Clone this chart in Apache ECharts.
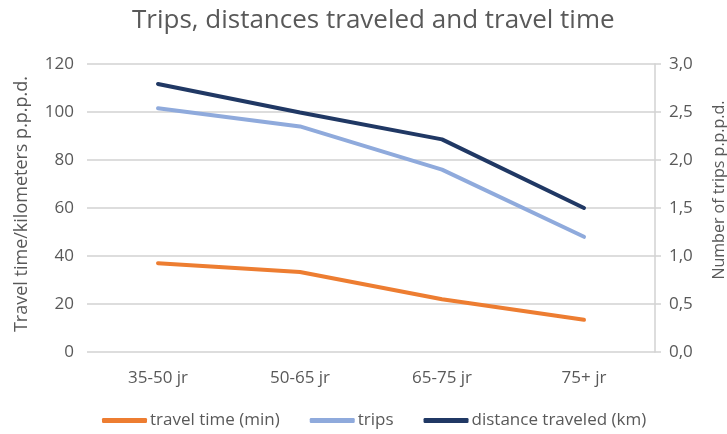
<!DOCTYPE html>
<html>
<head>
<meta charset="utf-8">
<script src="https://cdn.jsdelivr.net/npm/echarts@6/dist/echarts.min.js"></script>
<style>
  html, body { margin: 0; padding: 0; background: #fff; }
  #chart { width: 727px; height: 434px; }
</style>
</head>
<body>
<div id="chart"></div>
<script>
// Age groups on the category axis
const ageGroups = ['35-50 jr', '50-65 jr', '65-75 jr', '75+ jr'];

// Minutes per person per day (left axis)
const travelTime = [37, 33.3, 22, 13.4];
// Trips per person per day (right axis)
const trips = [2.54, 2.35, 1.9, 1.2];
// Kilometres per person per day (left axis)
const distanceTraveled = [111.7, 99.8, 88.6, 60];

const seriesNames = ['travel time (min)', 'trips', 'distance traveled (km)'];
const leftTicks = { min: 0, max: 120, interval: 20 };
const rightTicks = { min: 0, max: 3, interval: 0.5 };

const FONT = '"Open Sans", "Noto Sans", sans-serif';
const TEXT = '#595959';
const GRID = '#d2d2d2';

const chart = echarts.init(document.getElementById('chart'), null, { renderer: 'canvas' });

chart.setOption({
  animation: false,
  backgroundColor: '#ffffff',
  textStyle: { fontFamily: FONT },
  title: {
    text: 'Trips, distances traveled and travel time',
    left: 127,
    top: 3,
    textStyle: { fontFamily: FONT, fontSize: 26, fontWeight: 'normal', color: TEXT }
  },
  legend: {
    bottom: 0,
    left: 97,
    itemWidth: 45,
    itemHeight: 5,
    itemGap: 30,
    icon: 'roundRect',
    data: seriesNames,
    textStyle: { fontFamily: FONT, fontSize: 17, color: TEXT, padding: [0, 0, 0, -2] }
  },
  // rotated axis titles placed beside the value axes
  graphic: [
    {
      type: 'text',
      x: 22, y: 204,
      rotation: Math.PI / 2,
      style: {
        text: 'Travel time/kilometers p.p.p.d.',
        fill: TEXT, fontSize: 18, fontFamily: FONT,
        align: 'center', verticalAlign: 'middle'
      }
    },
    {
      type: 'text',
      x: 719, y: 190,
      rotation: Math.PI / 2,
      style: {
        text: 'Number of trips p.p.p.d.',
        fill: TEXT, fontSize: 16, fontFamily: FONT,
        align: 'center', verticalAlign: 'middle'
      }
    }
  ],
  grid: { left: 87, right: 72, top: 64, bottom: 82, containLabel: false },
  xAxis: {
    type: 'category',
    data: ageGroups,
    boundaryGap: true,
    axisLine: { show: false },
    axisTick: { show: false },
    axisLabel: { color: TEXT, fontSize: 17, fontFamily: FONT, margin: 18 }
  },
  yAxis: [
    {
      type: 'value',
      min: leftTicks.min,
      max: leftTicks.max,
      interval: leftTicks.interval,
      axisLine: { show: false },
      axisTick: { show: false },
      axisLabel: { color: TEXT, fontSize: 17, fontFamily: FONT, margin: 13 },
      splitLine: { lineStyle: { color: GRID, width: 1.5 } }
    },
    {
      type: 'value',
      position: 'right',
      min: rightTicks.min,
      max: rightTicks.max,
      interval: rightTicks.interval,
      axisLine: { show: true, lineStyle: { color: GRID, width: 1.5 } },
      axisTick: { show: true, length: 6, lineStyle: { color: GRID, width: 1.5 } },
      axisLabel: {
        color: TEXT, fontSize: 17, fontFamily: FONT, margin: 14,
        formatter: v => v.toFixed(1).replace('.', ',')
      },
      splitLine: { show: false }
    }
  ],
  series: [
    {
      name: seriesNames[0],
      type: 'line',
      yAxisIndex: 0,
      data: travelTime,
      symbol: 'none',
      color: '#ED7D31',
      lineStyle: { width: 4, color: '#ED7D31', cap: 'round' }
    },
    {
      name: seriesNames[1],
      type: 'line',
      yAxisIndex: 1,
      data: trips,
      symbol: 'none',
      color: '#8FAADC',
      lineStyle: { width: 4, color: '#8FAADC', cap: 'round' }
    },
    {
      name: seriesNames[2],
      type: 'line',
      yAxisIndex: 0,
      data: distanceTraveled,
      symbol: 'none',
      color: '#203864',
      lineStyle: { width: 4, color: '#203864', cap: 'round' }
    }
  ]
});
</script>
</body>
</html>
